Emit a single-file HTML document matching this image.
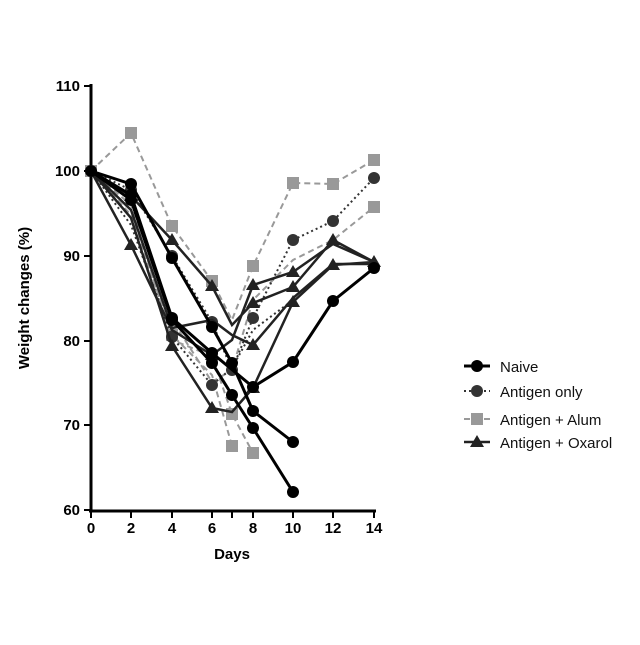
<!DOCTYPE html>
<html><head><style>body{margin:0;background:#fff}</style></head><body>
<svg width="640" height="640" xmlns="http://www.w3.org/2000/svg" font-family="Liberation Sans, sans-serif">
<defs>
<g id="c"><circle r="6"/></g>
<g id="s"><rect x="-6" y="-6" width="12" height="12"/></g>
<g id="t"><polygon points="0,-7 7,5 -7,5"/></g>
</defs>
<!-- axes -->
<g stroke="#000" stroke-width="3" fill="none">
<line x1="91" y1="84" x2="91" y2="512"/>
<line x1="89" y1="511" x2="376" y2="511"/>
</g>
<g stroke="#000" stroke-width="2">
<line x1="84" y1="86" x2="91" y2="86"/><line x1="84" y1="171" x2="91" y2="171"/><line x1="84" y1="256" x2="91" y2="256"/><line x1="84" y1="341" x2="91" y2="341"/><line x1="84" y1="425" x2="91" y2="425"/><line x1="84" y1="510" x2="91" y2="510"/>
<line x1="91" y1="511" x2="91" y2="518"/><line x1="131" y1="511" x2="131" y2="518"/><line x1="172" y1="511" x2="172" y2="518"/><line x1="212" y1="511" x2="212" y2="518"/><line x1="232" y1="511" x2="232" y2="518"/><line x1="253" y1="511" x2="253" y2="518"/><line x1="293" y1="511" x2="293" y2="518"/><line x1="333" y1="511" x2="333" y2="518"/><line x1="374" y1="511" x2="374" y2="518"/>
</g>
<g font-size="15" font-weight="bold" text-anchor="end">
<text x="80" y="91">110</text><text x="80" y="176">100</text><text x="80" y="261">90</text><text x="80" y="346">80</text><text x="80" y="430">70</text><text x="80" y="515">60</text>
</g>
<g font-size="15" font-weight="bold" text-anchor="middle">
<text x="91" y="533">0</text><text x="131" y="533">2</text><text x="172" y="533">4</text><text x="212" y="533">6</text><text x="253" y="533">8</text><text x="293" y="533">10</text><text x="333" y="533">12</text><text x="374" y="533">14</text>
<text x="232" y="559">Days</text>
<text transform="translate(29,298) rotate(-90)">Weight changes (%)</text>
</g>
<!-- Alum -->
<g stroke="#999" stroke-width="2" stroke-dasharray="6,4" fill="none">
<polyline points="91,171 131,133 172,226 212,281 232,320 253,266 293,183 333,184 374,160"/>
<polyline points="91,171 131,215 172,335 212,375 232,446"/>
<polyline points="91,171 131,205 172,340 212,356 232,414 253,453"/>
<polyline points="91,171 131,200 172,320 212,382 232,370 253,300 293,260 333,240 374,207"/>
</g>
<g fill="#999">
<use href="#s" x="131" y="133"/><use href="#s" x="172" y="226"/><use href="#s" x="212" y="281"/><use href="#s" x="253" y="266"/><use href="#s" x="293" y="183"/><use href="#s" x="333" y="184"/><use href="#s" x="374" y="160"/><use href="#s" x="374" y="207"/><use href="#s" x="232" y="446"/><use href="#s" x="253" y="453"/><use href="#s" x="212" y="356"/><use href="#s" x="232" y="414"/><use href="#s" x="172" y="335"/><use href="#s" x="91" y="171"/>
</g>
<!-- Antigen only -->
<g stroke="#333" stroke-width="2" stroke-dasharray="2,3" fill="none">
<polyline points="91,171 131,190 172,256 212,322 232,370 253,318 293,240 333,221 374,178"/>
<polyline points="91,171 131,225 172,337 212,385 232,368 253,330 293,300"/>
</g>
<g fill="#333">
<use href="#c" x="131" y="190"/><use href="#c" x="172" y="256"/><use href="#c" x="212" y="322"/><use href="#c" x="232" y="370"/><use href="#c" x="253" y="318"/><use href="#c" x="293" y="240"/><use href="#c" x="333" y="221"/><use href="#c" x="374" y="178"/><use href="#c" x="212" y="385"/><use href="#c" x="172" y="337"/>
</g>
<!-- Oxarol -->
<g stroke="#222" stroke-width="2.5" fill="none">
<polyline points="91,171 131,196 172,240 212,286 232,325 253,303 293,287 333,240 374,262"/>
<polyline points="91,171 131,218 172,346 212,408 232,412 253,388 293,302 333,265 374,262"/>
<polyline points="91,171 131,245 172,330 212,355 232,340 253,285 293,272 333,244 374,262"/>
<polyline points="91,171 131,210 172,328 212,320 232,335 253,345 293,298 333,264 374,264"/>
</g>
<g fill="#222">
<use href="#t" x="131" y="196"/><use href="#t" x="172" y="240"/><use href="#t" x="212" y="286"/><use href="#t" x="253" y="303"/><use href="#t" x="293" y="287"/><use href="#t" x="333" y="240"/><use href="#t" x="374" y="262"/><use href="#t" x="131" y="245"/><use href="#t" x="172" y="346"/><use href="#t" x="212" y="408"/><use href="#t" x="253" y="388"/><use href="#t" x="293" y="302"/><use href="#t" x="333" y="265"/><use href="#t" x="212" y="355"/><use href="#t" x="253" y="285"/><use href="#t" x="253" y="345"/><use href="#t" x="293" y="272"/>
</g>
<!-- Naive -->
<g stroke="#000" stroke-width="3" fill="none">
<polyline points="91,171 131,184 172,258 212,327 232,363 253,411 293,442"/>
<polyline points="91,171 131,200 172,320 212,363 232,395 253,428 293,492"/>
<polyline points="91,171 131,195 172,318 212,353 253,387 293,362 333,301 374,268"/>
</g>
<g fill="#000">
<use href="#c" x="91" y="171"/><use href="#c" x="131" y="184"/><use href="#c" x="172" y="258"/><use href="#c" x="212" y="327"/><use href="#c" x="232" y="363"/><use href="#c" x="253" y="411"/><use href="#c" x="293" y="442"/><use href="#c" x="131" y="200"/><use href="#c" x="172" y="320"/><use href="#c" x="212" y="363"/><use href="#c" x="232" y="395"/><use href="#c" x="253" y="428"/><use href="#c" x="293" y="492"/><use href="#c" x="131" y="195"/><use href="#c" x="172" y="318"/><use href="#c" x="212" y="353"/><use href="#c" x="253" y="387"/><use href="#c" x="293" y="362"/><use href="#c" x="333" y="301"/><use href="#c" x="374" y="268"/>
</g>
<!-- legend -->
<g>
<line x1="464" y1="366" x2="490" y2="366" stroke="#000" stroke-width="3"/><use href="#c" x="477" y="366" fill="#000"/>
<line x1="464" y1="391" x2="490" y2="391" stroke="#333" stroke-width="2" stroke-dasharray="2,3"/><use href="#c" x="477" y="391" fill="#333"/>
<line x1="464" y1="419" x2="490" y2="419" stroke="#999" stroke-width="2" stroke-dasharray="6,4"/><use href="#s" x="477" y="419" fill="#999"/>
<line x1="464" y1="442" x2="490" y2="442" stroke="#222" stroke-width="2.5"/><use href="#t" x="477" y="442" fill="#222"/>
</g>
<g font-size="15" fill="#111">
<text x="500" y="372">Naive</text><text x="500" y="397">Antigen only</text><text x="500" y="425">Antigen + Alum</text><text x="500" y="448">Antigen + Oxarol</text>
</g>
</svg>
</body></html>
